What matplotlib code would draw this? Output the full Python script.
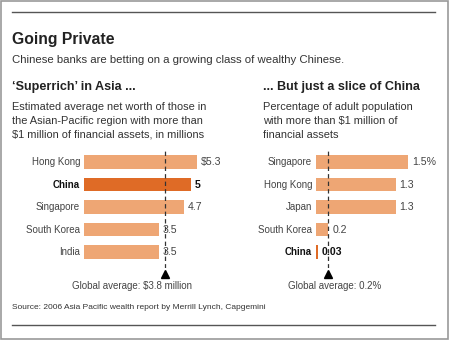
import matplotlib
matplotlib.use("Agg")
import matplotlib.pyplot as plt
from matplotlib.lines import Line2D
from matplotlib.patches import Rectangle

plt.rcParams['font.family'] = ['Liberation Sans', 'DejaVu Sans']

# data
left_names = ['Hong Kong', 'China', 'Singapore', 'South Korea', 'India']
left_values = [5.3, 5.0, 4.7, 3.5, 3.5]
left_labels = ['$5.3', '5', '4.7', '3.5', '3.5']
left_avg = 3.8

right_names = ['Singapore', 'Hong Kong', 'Japan', 'South Korea', 'China']
right_values = [1.5, 1.3, 1.3, 0.2, 0.03]
right_labels = ['1.5%', '1.3', '1.3', '0.2', '0.03']
right_avg = 0.2

LIGHT = '#EEA674'
DARK = '#DF6B26'
TXT = '#333333'

W, H = 457, 342
fig = plt.figure(figsize=(W / 100, H / 100), dpi=100)


def fx(x):
    return x / W


def fy(y):
    return 1 - y / H


def ftext(x, y, s, **kw):
    fig.text(fx(x), fy(y), s, va='baseline', color=kw.pop('color', TXT), **kw)


# frame and rules
fig.add_artist(Rectangle((fx(0.5), fy(338.5)), fx(447), 338 / H, fill=False,
                         edgecolor='#999999', lw=1.2, transform=fig.transFigure))
for yy in (12, 325):
    fig.add_artist(Line2D([fx(12), fx(435)], [fy(yy), fy(yy)], color='#555555', lw=1))

ftext(12, 44, 'Going Private', fontsize=11.3, weight='bold', color='#222222')
ftext(12, 63, 'Chinese banks are betting on a growing class of wealthy Chinese.', fontsize=8.2)

ftext(12, 90, '\u2018Superrich\u2019 in Asia ...', fontsize=9.1, weight='bold', color='#222222')
ftext(263, 90, '... But just a slice of China', fontsize=9.1, weight='bold', color='#222222')

for i, line in enumerate(['Estimated average net worth of those in',
                          'the Asian-Pacific region with more than',
                          '$1 million of financial assets, in millions']):
    ftext(12, 110 + 13.8 * i, line, fontsize=7.9)
for i, line in enumerate(['Percentage of adult population',
                          'with more than $1 million of',
                          'financial assets']):
    ftext(263, 110 + 13.8 * i, line, fontsize=7.9)

ftext(12, 309, 'Source: 2006 Asia Pacific wealth report by Merrill Lynch, Capgemini', fontsize=6)


def panel(x0, scale, names, values, labels, avg, avg_text, text_cx, hi):
    top, bottom = 151, 268
    xmax = 6.0 if scale < 40 else 2.0
    ax = fig.add_axes([fx(x0), fy(bottom), xmax * scale / W, (bottom - top) / H])
    ax.set_xlim(0, xmax)
    ax.set_ylim(4.7, -0.5)
    ax.axis('off')
    ys = range(len(names))
    colors = [DARK if i == hi else LIGHT for i in ys]
    ax.barh(list(ys), values, height=0.6, color=colors, zorder=1)
    ax.axvline(avg, color='#333333', lw=0.9, dashes=(3.5, 2.5), zorder=2)
    ax.plot([avg], [4.98], marker='^', ms=6, color='black', clip_on=False)
    for i in ys:
        bold = i == hi
        ax.annotate(names[i], (0, i), xytext=(-4, 0), textcoords='offset pixels',
                    ha='right', va='center', fontsize=7,
                    weight='bold' if bold else 'normal',
                    color='#111111' if bold else '#444444')
        ax.annotate(labels[i], (values[i], i), xytext=(4, 0), textcoords='offset pixels',
                    ha='left', va='center', fontsize=7.6,
                    weight='bold' if bold else 'normal',
                    color='#111111' if bold else '#444444', zorder=3)
    ftext(text_cx, 289, avg_text, fontsize=7, ha='center', color='#444444')


panel(84, 21.3, left_names, left_values, left_labels, left_avg,
      'Global average: $3.8 million', 132, 1)
panel(316, 61.3, right_names, right_values, right_labels, right_avg,
      'Global average: 0.2%', 335, 4)

fig.savefig('out.png', dpi=100)
